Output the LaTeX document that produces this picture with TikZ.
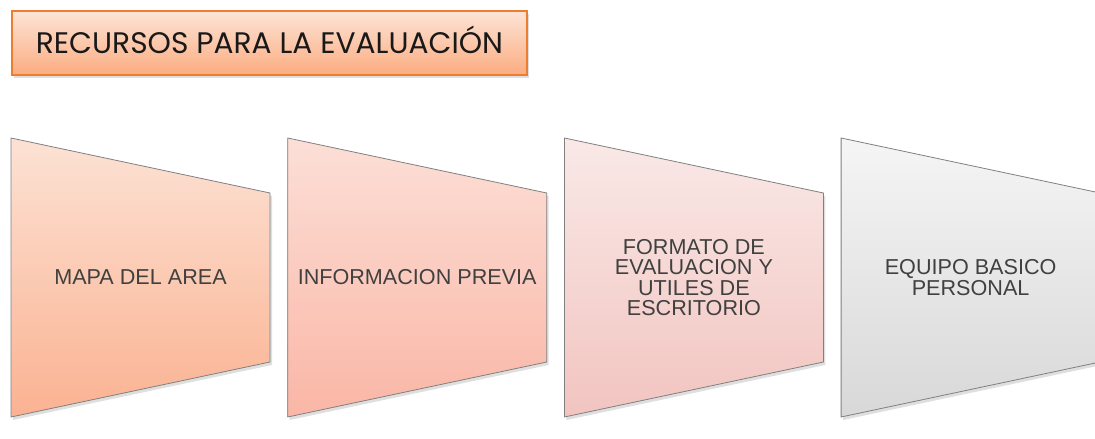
\documentclass[tikz,border=0pt]{standalone}
\usepackage{fontspec}
\setmainfont{Liberation Sans}
\newfontfamily\titlefont{Poppins}
\usepackage{xcolor}
\usetikzlibrary{shadows, positioning}

% colores de los bloques
\definecolor{bordegris}{RGB}{128,128,128}
\definecolor{textogris}{RGB}{64,64,64}
\definecolor{naranja}{RGB}{237,125,49}
\definecolor{tituloA}{RGB}{253,228,214}
\definecolor{tituloB}{RGB}{251,172,128}
\definecolor{pasoA1}{RGB}{252,226,212}
\definecolor{pasoB1}{RGB}{251,178,146}
\definecolor{pasoA2}{RGB}{252,223,215}
\definecolor{pasoB2}{RGB}{250,182,166}
\definecolor{pasoA3}{RGB}{249,233,231}
\definecolor{pasoB3}{RGB}{242,196,192}
\definecolor{pasoA4}{RGB}{245,245,245}
\definecolor{pasoB4}{RGB}{216,216,216}

\tikzset{
    sombra/.style={drop shadow={opacity=0.25, shadow xshift=2pt, shadow yshift=-3pt}},
    paso/.style={draw=bordegris, line width=0.8pt, sombra},
    etiqueta/.style={text=textogris, align=center, inner sep=0pt,
        font=\fontsize{21.6}{20.5}\selectfont},
    titulo/.style={draw=naranja, line width=1.6pt, top color=tituloA, bottom color=tituloB,
        minimum width=515pt, minimum height=64pt, inner sep=0pt, sombra,
        text=black!90, text height=20.8pt, text depth=0pt,
        font=\titlefont\fontsize{29.7}{29.7}\selectfont}
}

\begin{document}
\begin{tikzpicture}[x=1pt, y=-1pt]
    \useasboundingbox (0,0) rectangle (1095,439);
    \clip (0,0) rectangle (1095,439);

    % 1. Titulo
    \node[titulo] (titulo) at (269.5,43) {RECURSOS PARA LA EVALUACIÓN};

    % 2. Bloques trapezoidales con su texto
    \foreach \i/\txt in {1/{MAPA DEL AREA}, 2/{INFORMACION PREVIA},
        3/{FORMATO DE\\EVALUACION Y\\UTILES DE\\ESCRITORIO}, 4/{EQUIPO BASICO\\PERSONAL}} {
        \pgfmathsetmacro{\x}{11+(\i-1)*276.7}
        \draw[paso, top color=pasoA\i, bottom color=pasoB\i]
            (\x,138) -- (\x+259,193) -- (\x+259,362) -- (\x,417) -- cycle;
        \node[etiqueta] (texto\i) at (\x+129.5,277.5) {\txt};
    }

\end{tikzpicture}
\end{document}
